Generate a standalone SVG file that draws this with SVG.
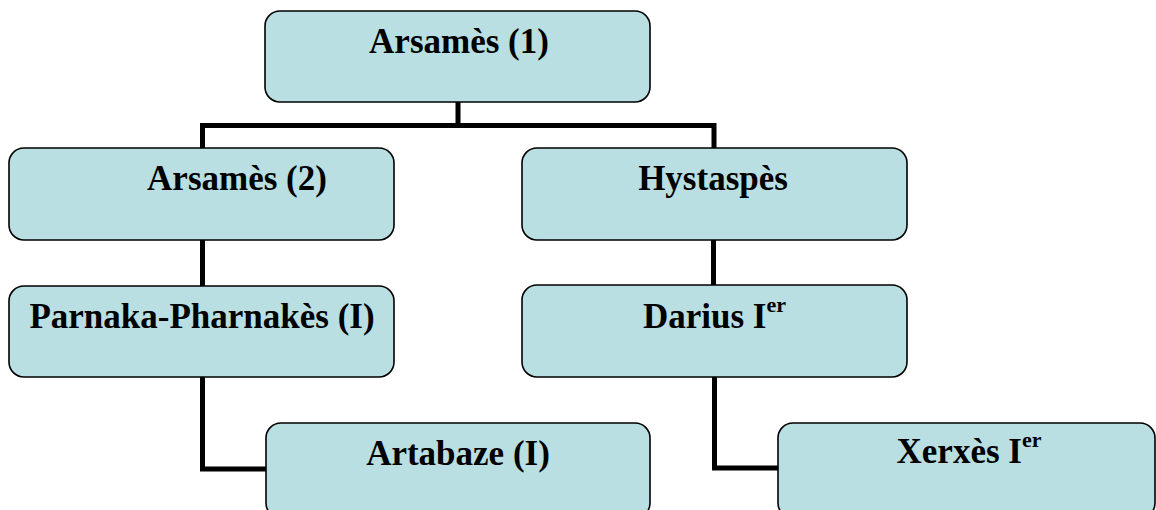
<svg xmlns="http://www.w3.org/2000/svg" width="1156" height="510" viewBox="0 0 1156 510">
<style>
.box{fill:#B9DFE3;stroke:#000;stroke-width:1.6}
.lbl{font-family:"Liberation Serif","Times New Roman",serif;font-weight:bold;font-size:35px;fill:#000;text-anchor:middle}
.sup{font-size:22px}
.conn{fill:none;stroke:#000;stroke-width:5;stroke-linejoin:miter;stroke-linecap:butt}
</style>
<rect width="1156" height="510" fill="#fff"/>
<g id="connectors" class="conn">
<path d="M458 102 V125.5 M202.5 148 V125.5 H714 V148"/>
<path d="M202.5 240 V286"/>
<path d="M713.5 240 V285"/>
<path d="M202.5 377 V469 H266"/>
<path d="M714.5 377 V468 H778"/>
</g>
<g id="n1"><rect class="box" x="265" y="11" width="385" height="91" rx="15"/><text class="lbl" x="459" y="53">Arsamès (1)</text></g>
<g id="n2"><rect class="box" x="9" y="148" width="385" height="92" rx="15"/><text class="lbl" x="237" y="190">Arsamès (2)</text></g>
<g id="n3"><rect class="box" x="522" y="148" width="385" height="92" rx="15"/><text class="lbl" x="713" y="190">Hystaspès</text></g>
<g id="n4"><rect class="box" x="9" y="286" width="385" height="91" rx="15"/><text class="lbl" x="202" y="328">Parnaka-Pharnakès (I)</text></g>
<g id="n5"><rect class="box" x="522" y="285" width="385" height="92" rx="15"/><text class="lbl" x="714.5" y="328">Darius I<tspan class="sup" dy="-16">er</tspan></text></g>
<g id="n6"><rect class="box" x="266" y="423" width="384" height="95" rx="15"/><text class="lbl" x="458" y="465">Artabaze (I)</text></g>
<g id="n7"><rect class="box" x="778" y="423" width="377" height="95" rx="15"/><text class="lbl" x="969" y="463">Xerxès I<tspan class="sup" dy="-16">er</tspan></text></g>
</svg>
